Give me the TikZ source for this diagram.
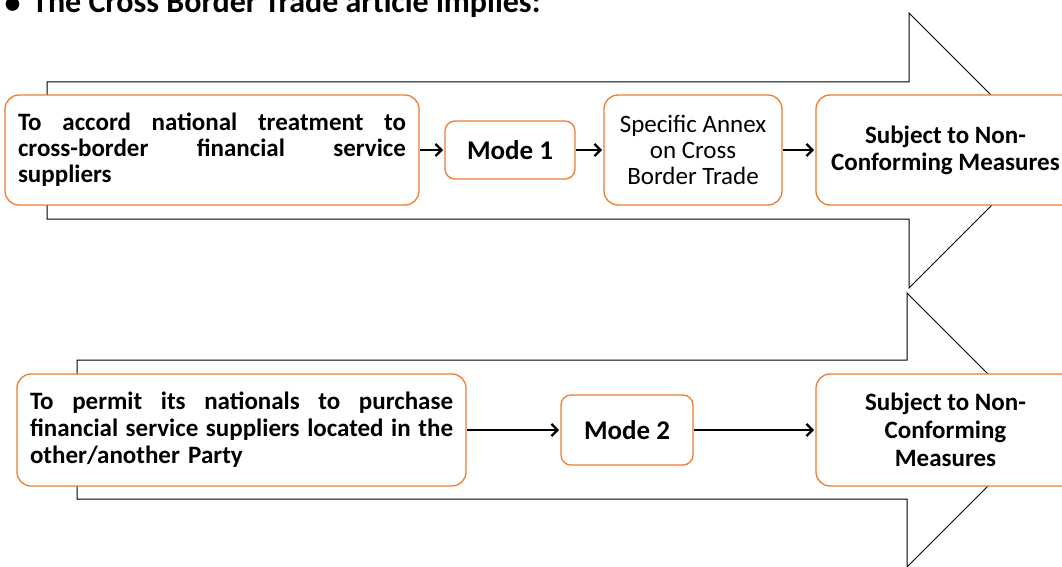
\documentclass[tikz,border=0pt]{standalone}
\usepackage{fontspec}
\setmainfont{Carlito}
\usetikzlibrary{arrows.meta}
\definecolor{boxorange}{RGB}{237,125,49}
\begin{document}
\begin{tikzpicture}[x=1pt,y=-1pt,
  box/.style={draw=boxorange, line width=1.3pt, fill=white, rounded corners=14pt, inner sep=0pt, outer sep=0pt},
  smallbox/.style={box, rounded corners=10pt},
  bigarrow/.style={draw=black, line width=1pt, fill=white, line join=miter},
  conn/.style={-{Straight Barb[length=6pt,width=12pt,line width=2.2pt]}, line width=2.8pt, shorten >=2pt, shorten <=1pt},
  boldtext/.style={font=\fontsize{25}{26}\selectfont\bfseries},
  modetext/.style={font=\fontsize{27}{28}\selectfont\bfseries},
  ]
\clip (0,0) rectangle (1062,567);
% big hollow arrows
\draw[bigarrow] (47,82) -- (909,82) -- (909,13) -- (1046.5,150.5) -- (909,288) -- (909,219) -- (47,219) -- cycle;
\draw[bigarrow] (77,360) -- (907,360) -- (907,293) -- (1044,430) -- (907,567) -- (907,499) -- (77,499) -- cycle;
% title
\node[anchor=base, inner sep=0pt, font=\fontsize{32}{38}\selectfont\bfseries] (bul) at (12.5,14) {•};
\node[anchor=base west, inner sep=0pt, font=\fontsize{32}{38}\selectfont\bfseries] (title) at (32,13) {The Cross Border Trade article implies:};
% top row
\node[box, minimum width=414pt, minimum height=110pt, text width=388pt, align=left, boldtext] (a) at (212,150)
  {\makebox[388pt]{To\hfill accord\hfill national\hfill treatment\hfill to}\\\makebox[388pt]{cross-border\hfill financial\hfill service}\\suppliers};
\node[smallbox, minimum width=130pt, minimum height=58pt, modetext] (m1) at (510,150) {Mode 1};
\node[box, minimum width=178pt, minimum height=110pt, align=center, font=\fontsize{25}{26}\selectfont] (sa) at (693,150)
  {Specific Annex\\on Cross\\Border Trade};
\node[box, minimum width=259pt, minimum height=110pt, align=center, font=\fontsize{25}{27}\selectfont\bfseries] (s1) at (945.5,150)
  {Subject to Non-\\Conforming Measures};
% bottom row
\node[box, minimum width=449pt, minimum height=112pt, text width=423pt, align=left, font=\fontsize{25}{27}\selectfont\bfseries] (d) at (241.5,430)
  {\makebox[423pt]{To\hfill permit\hfill its\hfill nationals\hfill to\hfill purchase}\\\makebox[423pt]{financial\hfill service\hfill suppliers\hfill located\hfill in\hfill the}\\other/another Party};
\node[smallbox, minimum width=132pt, minimum height=70pt, modetext] (m2) at (627,430) {Mode 2};
\node[box, minimum width=259pt, minimum height=112pt, align=center, font=\fontsize{25}{28}\selectfont\bfseries] (s2) at (945.5,430)
  {Subject to Non-\\Conforming\\Measures};
% connectors
\draw[conn] (a) -- (m1);
\draw[conn] (m1) -- (sa);
\draw[conn] (sa) -- (s1);
\draw[conn] (d) -- (m2);
\draw[conn] (m2) -- (s2);
\end{tikzpicture}
\end{document}
